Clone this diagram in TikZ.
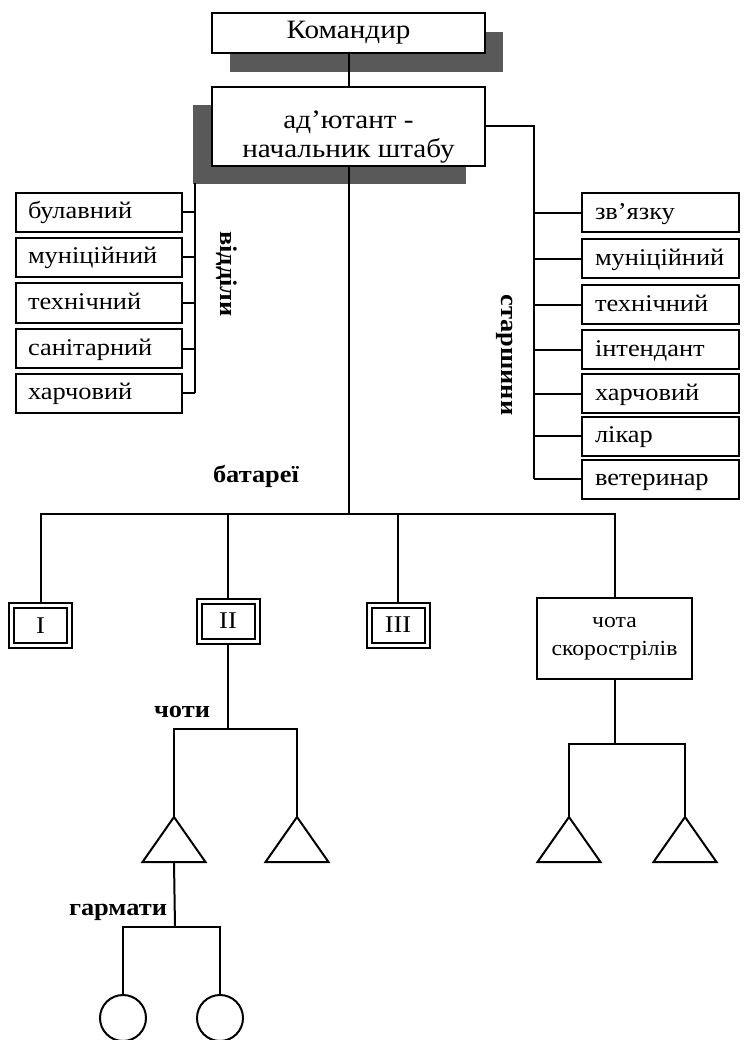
\documentclass[tikz,border=0pt]{standalone}
\usepackage{fontspec}
\setmainfont{Liberation Serif}[FakeStretch=1.1]
\usetikzlibrary{positioning}
\usetikzlibrary{calc}
\usetikzlibrary{shadows}

\begin{document}
\begin{tikzpicture}[x=1pt,y=-1pt,line width=2pt,
  every node/.style={font=\fontsize{24}{29}\selectfont},
  chief/.style={draw,fill=white,minimum width=273,align=center,font=\fontsize{26.5}{29}\selectfont},
  leftbox/.style={draw,minimum width=166,minimum height=39,text width=142,inner xsep=12,align=left,text height=17,text depth=4},
  rightbox/.style={draw,minimum width=157,minimum height=39,text width=131,inner xsep=13,align=left,text height=17,text depth=4},
  battery/.style={draw,double,double distance=3pt,minimum width=58,minimum height=40,outer sep=3.5pt},
  chbox/.style={draw,minimum width=155,minimum height=81,align=center,font=\fontsize{21.5}{28}\selectfont},
  gun/.style={draw,circle,minimum size=46,inner sep=0},
  lbl/.style={font=\bfseries\fontsize{24}{29}\selectfont}
  ]
  \useasboundingbox (0,0) rectangle (744,1040);

  \node[chief,minimum height=40,drop shadow={shadow xshift=18pt,shadow yshift=-19pt,fill=black!65,opacity=1}] (kom) at (348.5,33) {Командир};
  \node[chief,minimum height=77,drop shadow={shadow xshift=-19pt,shadow yshift=-18pt,fill=black!65,opacity=1}] (adj) at (348.5,126.5) {\rule{0pt}{38pt}ад’ютант -\\начальник штабу};
  \draw (kom.south) -- (adj.north);

  \foreach \n/\y/\t in {d1/212.5/булавний,d2/257.5/муніційний,d3/303/технічний,d4/348.5/санітарний,d5/393/харчовий}
    \node[leftbox] (\n) at (99,\y) {\t};
  \foreach \n/\y/\t in {s1/213/зв’язку,s2/259/муніційний,s3/304.5/технічний,s4/349.5/інтендант,s5/393.5/харчовий,s6/436/лікар,s7/479/ветеринар}
    \node[rightbox] (\n) at (660.5,\y) {\t};

  \coordinate (lb) at (195,183);
  \draw (lb) -- (lb |- d5.east);
  \foreach \n in {d1,d2,d3,d4,d5}
    \draw (\n.east) -- (lb |- \n.east);
  \coordinate (rb) at (534,127);
  \draw (adj.east) -- (adj.east -| rb) -- (rb |- s7.west);
  \foreach \n in {s1,s2,s3,s4,s5,s6,s7}
    \draw (rb |- \n.west) -- (\n.west);

  \node[lbl,rotate=-90] (vid) at (227,274) {відділи};
  \node[lbl,rotate=-90] (star) at (505,355) {старшини};
  \node[lbl] (bat) at (256,476) {батареї};

  \node[battery] (b1) at (40.5,625.5) {I};
  \node[battery] (b2) at (228,621) {II};
  \node[battery] (b3) at (398,625) {III};
  \node[chbox] (ch) at (614.5,638.5) {чота\\скорострілів};

  \coordinate (bb) at (348,514);
  \draw (adj.south) -- (adj.south |- bb);
  \draw (b1.north) |- (bb) -| (ch.north);
  \draw (b2.north) -- (b2.north |- bb);
  \draw (b3.north) -- (b3.north |- bb);

  \foreach \n/\x in {ta/174,tb/297,tc/569,td/685}{
    \coordinate (\n) at (\x,817);
    \coordinate (\n-b) at (\x,862);
    \draw[line join=miter] (\n) -- ++(-31.5,45) -- ++(63,0) -- cycle;
  }

  \node[lbl] (choty) at (182,712) {чоти};
  \coordinate (cb) at (228,729);
  \draw (b2.south) -- (cb);
  \draw (ta) |- (cb) -| (tb);

  \coordinate (sb) at (616,744);
  \draw (ch.south) -- (ch.south |- sb);
  \draw (tc) |- (sb) -| (td);

  \node[lbl] (harm) at (118,912) {гармати};
  \node[gun] (g1) at (123,1018) {};
  \node[gun] (g2) at (220,1018) {};
  \coordinate (gb) at (175,927);
  \draw (ta-b) -- (gb);
  \draw (g1.north) |- (gb) -| (g2.north);
\end{tikzpicture}
\end{document}
